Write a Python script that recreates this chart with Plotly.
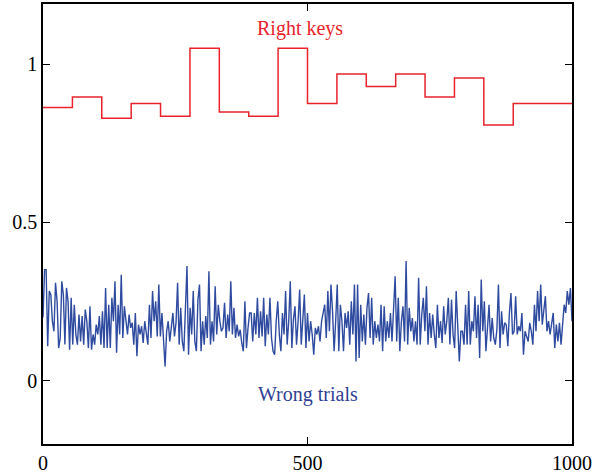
import numpy as np
import plotly.graph_objects as go

# Right keys: step levels over 18 equal blocks of trials
right_block_edges = [0, 55.6, 111.1, 166.7, 222.2, 277.8, 333.3, 388.9, 444.4, 500.0,
                     555.6, 611.1, 666.7, 722.2, 777.8, 833.3, 888.9, 944.4, 1000]
right_levels = [0.863, 0.896, 0.829, 0.876, 0.835, 1.050, 0.849, 0.835, 1.050, 0.876,
                0.969, 0.929, 0.969, 0.896, 0.956, 0.808, 0.876, 0.876]

# Wrong trials: noisy series (left to right)
wrong_trials = [
    0.20, 0.351, 0.351, 0.109, 0.283, 0.272, 0.188, 0.156, 0.309, 0.251, 0.103, 0.135, 0.314, 0.272,
    0.114, 0.293, 0.251, 0.098, 0.262, 0.114, 0.240, 0.146, 0.114, 0.209, 0.124, 0.204, 0.114, 0.225,
    0.188, 0.103, 0.235, 0.098, 0.146, 0.114, 0.177, 0.146, 0.204, 0.114, 0.219, 0.103, 0.293, 0.103,
    0.240, 0.103, 0.262, 0.188, 0.314, 0.088, 0.240, 0.146, 0.335, 0.135, 0.235, 0.188, 0.146, 0.209,
    0.167, 0.183, 0.114, 0.214, 0.077, 0.177, 0.146, 0.172, 0.119, 0.188,
    0.156, 0.114, 0.240, 0.135, 0.283, 0.188, 0.251, 0.140, 0.304, 0.140, 0.214, 0.146, 0.045, 0.156,
    0.188, 0.124, 0.183, 0.214, 0.140, 0.183, 0.309, 0.114, 0.230, 0.124, 0.093, 0.251, 0.362, 0.082,
    0.230, 0.146, 0.283, 0.124, 0.093, 0.256, 0.304, 0.093, 0.188, 0.114, 0.204, 0.135, 0.346, 0.114,
    0.188, 0.124, 0.298, 0.146, 0.240, 0.188, 0.156, 0.167, 0.246, 0.135, 0.209, 0.156, 0.314, 0.146,
    0.230, 0.135, 0.177, 0.140, 0.161, 0.119, 0.093, 0.251, 0.103, 0.167, 0.214,
    0.214, 0.124, 0.214, 0.146, 0.262, 0.135, 0.219, 0.140, 0.262, 0.109, 0.209, 0.146, 0.262, 0.135,
    0.093, 0.082, 0.188, 0.251, 0.146, 0.093, 0.214, 0.146, 0.283, 0.114, 0.188, 0.314, 0.103, 0.193,
    0.235, 0.114, 0.188, 0.288, 0.114, 0.198, 0.272, 0.103, 0.214, 0.124, 0.188, 0.146, 0.082, 0.167,
    0.146, 0.172, 0.124, 0.188, 0.209, 0.240, 0.135, 0.283, 0.156, 0.304, 0.219, 0.093, 0.188, 0.304,
    0.093, 0.240, 0.188, 0.093, 0.214, 0.167, 0.219, 0.114, 0.251, 0.146, 0.304, 0.061,
    0.304, 0.072, 0.240, 0.124, 0.209, 0.114, 0.230, 0.277, 0.135, 0.262, 0.114, 0.188, 0.135, 0.177,
    0.124, 0.240, 0.093, 0.235, 0.124, 0.188, 0.135, 0.214, 0.124, 0.251, 0.330, 0.124, 0.262, 0.093,
    0.188, 0.235, 0.124, 0.378, 0.114, 0.230, 0.156, 0.198, 0.124, 0.188, 0.114, 0.325, 0.114, 0.209,
    0.262, 0.156, 0.298, 0.114, 0.214, 0.135, 0.209, 0.146, 0.103, 0.240, 0.135, 0.188, 0.119, 0.235,
    0.146, 0.188, 0.262, 0.114, 0.256, 0.146, 0.103, 0.283, 0.156, 0.061, 0.156,
    0.156, 0.114, 0.240, 0.114, 0.283, 0.114, 0.188, 0.156, 0.267, 0.135, 0.240, 0.072, 0.320, 0.156,
    0.251, 0.093, 0.177, 0.240, 0.124, 0.198, 0.135, 0.114, 0.161, 0.304, 0.103, 0.219, 0.146, 0.183,
    0.177, 0.109, 0.214, 0.277, 0.146, 0.156, 0.267, 0.146, 0.172, 0.156, 0.214, 0.082, 0.156, 0.140,
    0.124, 0.183, 0.156, 0.114, 0.240, 0.156, 0.283, 0.188, 0.304, 0.177, 0.219, 0.267, 0.156, 0.188,
    0.146, 0.183, 0.214, 0.103, 0.177, 0.124, 0.183, 0.114, 0.177, 0.240, 0.214, 0.283, 0.240, 0.293,
    0.188,
]
wrong_x = np.linspace(0, 1000, len(wrong_trials))

x_ticks = [0, 500, 1000]
x_tick_labels = ["0", "500", "1000"]
y_ticks = [0, 0.5, 1]
y_tick_labels = ["0", "0.5", "1"]

RED = "#E8232C"
BLUE = "#2F4BA0"
FONT = "Liberation Serif"

fig = go.Figure()
fig.add_trace(go.Scatter(
    x=right_block_edges, y=right_levels + [right_levels[-1]],
    mode="lines", line=dict(color=RED, width=1.5, shape="hv"), hoverinfo="skip"))
fig.add_trace(go.Scatter(
    x=wrong_x, y=wrong_trials,
    mode="lines", line=dict(color=BLUE, width=1.4), hoverinfo="skip"))

fig.add_annotation(x=485, y=1.114, text="Right keys", showarrow=False,
                   font=dict(family=FONT, size=20, color=RED))
fig.add_annotation(x=500, y=-0.044, text="Wrong trials", showarrow=False,
                   font=dict(family=FONT, size=20, color="#2E3F93"))

axis_common = dict(showgrid=False, zeroline=False, showline=True, linecolor="black",
                   linewidth=1.5, mirror="ticks", ticks="inside", ticklen=7,
                   tickwidth=1.2, tickcolor="black", automargin=False,
                   tickfont=dict(family=FONT, size=20, color="black"))
fig.update_xaxes(range=[0, 1000], tickvals=x_ticks, ticktext=x_tick_labels, **axis_common)
fig.update_yaxes(range=[-0.2, 1.19], tickvals=y_ticks, ticktext=y_tick_labels, **axis_common)

fig.update_layout(width=595, height=475, showlegend=False,
                  margin=dict(l=43, r=23, t=4, b=31, autoexpand=False),
                  paper_bgcolor="white", plot_bgcolor="white")

fig.write_html("out.html", config={"displayModeBar": False},
               post_script="document.body.style.margin='0';document.body.style.overflow='hidden';")
